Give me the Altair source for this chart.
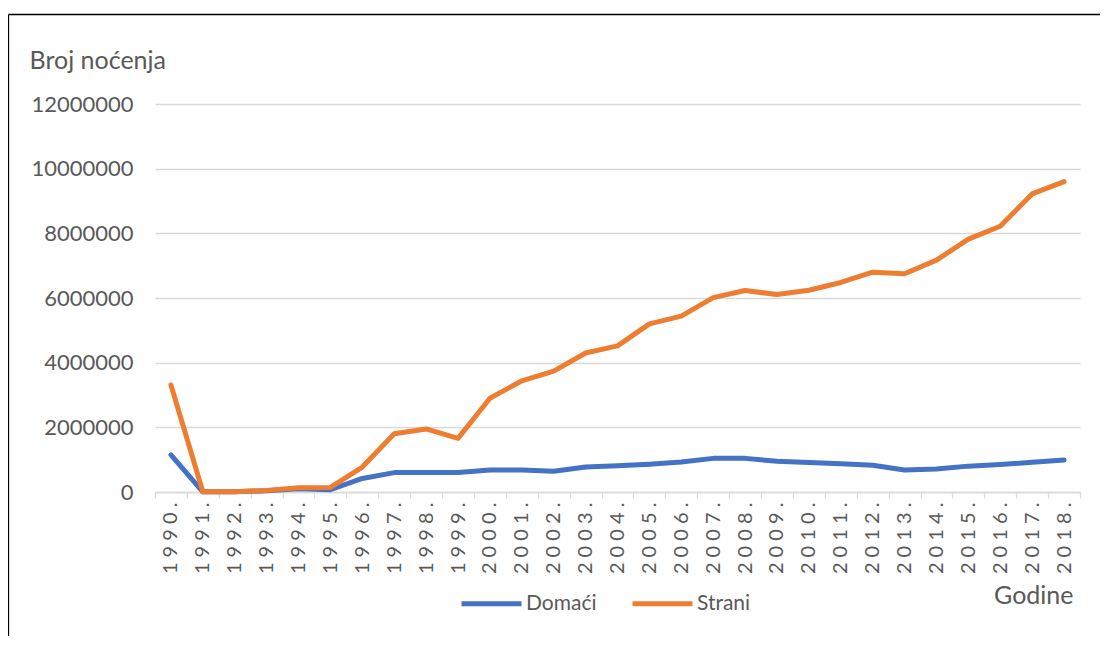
import altair as alt
import pandas as pd

years = ["1990.", "1991.", "1992.", "1993.", "1994.", "1995.", "1996.", "1997.",
         "1998.", "1999.", "2000.", "2001.", "2002.", "2003.", "2004.", "2005.",
         "2006.", "2007.", "2008.", "2009.", "2010.", "2011.", "2012.", "2013.",
         "2014.", "2015.", "2016.", "2017.", "2018."]

domaci = [1150000, 5000, 5000, 40000, 100000, 70000, 420000, 600000,
          600000, 600000, 680000, 680000, 640000, 770000, 810000, 860000,
          930000, 1040000, 1040000, 950000, 910000, 870000, 830000, 680000,
          710000, 800000, 850000, 920000, 990000]

strani = [3310000, 10000, 10000, 50000, 130000, 140000, 770000, 1800000,
          1950000, 1660000, 2900000, 3440000, 3740000, 4300000, 4520000, 5200000,
          5440000, 6010000, 6230000, 6110000, 6240000, 6480000, 6800000, 6750000,
          7170000, 7820000, 8220000, 9220000, 9600000]

series_names = ["Domaći", "Strani"]
series_colors = ["#4472C4", "#ED7D31"]
y_ticks = [0, 2000000, 4000000, 6000000, 8000000, 10000000, 12000000]

# spaced tick labels to mimic the wide letter spacing of the rotated labels
spaced = [" ".join(list(y)) for y in years]

rows = []
for name, vals in zip(series_names, [domaci, strani]):
    for lbl, v in zip(spaced, vals):
        rows.append({"Godina": lbl, "Serija": name, "Vrijednost": v})
df = pd.DataFrame(rows)

FONT = "Lato"
GRAY = "#595959"
GRID = "#D9D9D9"

W, H = 925, 388
PAD_L, PAD_T, PAD_R, PAD_B = 147, 96, 20, 144

lines = alt.Chart(df).mark_line(strokeWidth=5, strokeCap="round", strokeJoin="round").encode(
    x=alt.X("Godina:N", sort=spaced, bandPosition=0.5,
            scale=alt.Scale(type="band", paddingInner=0, paddingOuter=0),
            axis=alt.Axis(title="Godine", titleAngle=0, titleAlign="right",
                          titleBaseline="alphabetic", titleX=918, titleY=111,
                          titleFontSize=25, titleFontWeight="normal", titleColor=GRAY,
                          titleFont=FONT,
                          labelAngle=270, labelFontSize=20, labelColor=GRAY, labelFont=FONT,
                          labelPadding=4, tickSize=6, tickBand="extent",
                          tickColor=GRID, tickWidth=1.3, domainColor=GRID, domainWidth=1.3,
                          grid=False)),
    y=alt.Y("Vrijednost:Q",
            scale=alt.Scale(domain=[0, 12000000], nice=False),
            axis=alt.Axis(values=y_ticks, format="d", title="Broj noćenja",
                          titleAngle=0, titleAlign="left", titleBaseline="alphabetic",
                          titleX=-126, titleY=-36, titleFontSize=25,
                          titleFontWeight="normal", titleColor=GRAY, titleFont=FONT,
                          labelFontSize=22, labelColor=GRAY, labelFont=FONT,
                          labelPadding=22, ticks=False, domain=False,
                          grid=True, gridColor=GRID, gridWidth=1.3)),
    color=alt.Color("Serija:N", sort=series_names,
                    scale=alt.Scale(domain=series_names, range=series_colors),
                    legend=alt.Legend(title=None, orient="none", direction="horizontal",
                                      legendX=304, legendY=467,
                                      symbolType="stroke", symbolSize=3600,
                                      symbolStrokeWidth=5, labelFontSize=21,
                                      labelColor=GRAY, labelFont=FONT, labelOffset=2,
                                      columnPadding=25, padding=0)),
)

one = pd.DataFrame({"a": [0]})
frame_top = alt.Chart(one).mark_rule(color="#000000", strokeWidth=1.3).encode(
    x=alt.value(-146.5), x2=alt.value(W + PAD_R + 10), y=alt.value(-89.5))
frame_left = alt.Chart(one).mark_rule(color="#000000", strokeWidth=1.3).encode(
    x=alt.value(-146.5), y=alt.value(-89.5), y2=alt.value(H + PAD_B + 10))

chart = alt.layer(frame_top, frame_left, lines).properties(
    width=W, height=H,
    autosize=alt.AutoSizeParams(type="none"),
    padding={"left": PAD_L, "top": PAD_T, "right": PAD_R, "bottom": PAD_B},
    background="white",
).configure_view(stroke=None)

chart.save("out.html", embed_options={"renderer": "svg", "actions": False})
